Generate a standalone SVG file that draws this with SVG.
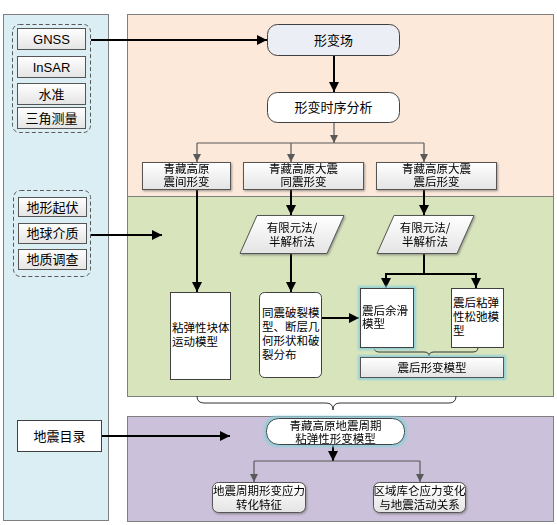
<svg xmlns="http://www.w3.org/2000/svg" width="557" height="525" viewBox="0 0 557 525">
<defs>
<linearGradient id="gbox" x1="0" y1="0" x2="0" y2="1">
<stop offset="0" stop-color="#FFFFFF"/>
<stop offset="1" stop-color="#E4E4E4"/>
</linearGradient>
<filter id="shadow" x="-10%" y="-10%" width="125%" height="135%">
<feDropShadow dx="1" dy="1.2" stdDeviation="0.8" flood-color="#555" flood-opacity="0.55"/>
</filter>
<filter id="glow" x="-15%" y="-15%" width="130%" height="130%">
<feMorphology in="SourceAlpha" operator="dilate" radius="1.5" result="d"/>
<feGaussianBlur in="d" stdDeviation="1" result="b"/>
<feFlood flood-color="#8FCFD9" flood-opacity="0.9"/>
<feComposite in2="b" operator="in" result="g"/>
<feMerge><feMergeNode in="g"/><feMergeNode in="SourceGraphic"/></feMerge>
</filter>
<marker id="ab" viewBox="0 0 10 10" refX="10" refY="5" markerWidth="5" markerHeight="5" markerUnits="strokeWidth" orient="auto">
<path d="M0,0 L10,5 L0,10 z" fill="#000"/>
</marker>
<marker id="ag" viewBox="0 0 10 10" refX="10" refY="5" markerWidth="7" markerHeight="7" markerUnits="strokeWidth" orient="auto">
<path d="M0,0 L10,5 L0,10 z" fill="#595959"/>
</marker>
</defs>
<style>
.panel{stroke:#7F7F7F;stroke-width:1}
.txt{font-family:"Noto Sans CJK SC","Liberation Sans",sans-serif;font-size:11.5px;fill:#000}
.lt{font-family:"Liberation Sans","Noto Sans CJK SC",sans-serif;font-size:13px;fill:#000}
.big{font-size:13px}
.src{fill:url(#gbox);stroke:#555;stroke-width:1}
.node{stroke:#404040;stroke-width:1}
.dash{fill:none;stroke:#595959;stroke-width:1;stroke-dasharray:4 2.5}
.thick{fill:none;stroke:#000;stroke-width:2;marker-end:url(#ab)}
.thin{fill:none;stroke:#595959;stroke-width:1.2}
.thinA{fill:none;stroke:#595959;stroke-width:1.2;marker-end:url(#ag)}
.brace{fill:none;stroke:#333;stroke-width:1}
</style>

<g id="panels">
<rect class="panel" x="3.5" y="14.5" width="105" height="506" fill="#DAEEF3"/>
<rect class="panel" x="127.5" y="14.5" width="426" height="182" fill="#FDE9D9"/>
<rect class="panel" x="127.5" y="196.5" width="426" height="200" fill="#D7E4BC"/>
<rect class="panel" x="127.5" y="416.5" width="426" height="105" fill="#CCC1DA"/>
</g>

<g id="source-groups">
<rect class="dash" x="12.5" y="24.5" width="78" height="108" rx="7"/>
<rect class="dash" x="13.5" y="190.5" width="77" height="86" rx="7"/>
</g>

<g id="connectors">
<line class="thick" x1="91" y1="40" x2="267" y2="40"/>
<line class="thick" x1="91" y1="235" x2="162" y2="235"/>
<line class="thick" x1="101" y1="436" x2="230" y2="436"/>
<line class="thick" x1="334" y1="55" x2="334" y2="92"/>
<line class="thinA" x1="334" y1="122" x2="334" y2="143"/>
<polyline class="thin" points="197,143 424,143"/>
<line class="thinA" x1="197" y1="143" x2="197" y2="162"/>
<line class="thinA" x1="291" y1="143" x2="291" y2="162"/>
<line class="thinA" x1="424" y1="143" x2="424" y2="162"/>
<line class="thick" x1="197" y1="190" x2="197" y2="292"/>
<line class="thick" x1="291" y1="189" x2="291" y2="215"/>
<line class="thick" x1="424" y1="189" x2="424" y2="215"/>
<line class="thick" x1="291" y1="253" x2="291" y2="292"/>
<polyline fill="none" stroke="#000" stroke-width="2" points="424,253 424,274"/>
<polyline fill="none" stroke="#000" stroke-width="2" points="385,274 477,274"/>
<line class="thick" x1="386" y1="273" x2="386" y2="288"/>
<line class="thick" x1="476" y1="273" x2="476" y2="288"/>
<line class="thick" x1="321" y1="318" x2="359" y2="318"/>
<path class="brace" d="M374,347 Q374,352 379,352 L424,352 Q429,352 429,356 Q429,352 434,352 L473,352 Q478,352 478,347"/>
<path class="brace" d="M197,396 Q197,403 204,403 L326,403 Q333,403 333,410 Q333,403 340,403 L449,403 Q456,403 456,396"/>
<line class="thick" x1="333" y1="444" x2="333" y2="461"/>
<polyline class="thin" points="254,461 420,461"/>
<line class="thinA" x1="254" y1="461" x2="254" y2="482"/>
<line class="thinA" x1="420" y1="461" x2="420" y2="482"/>
</g>

<g id="n-gnss"><rect class="src" x="17.5" y="28.5" width="68" height="21"/><text class="lt" x="51.5" y="43.5" text-anchor="middle">GNSS</text></g>
<g id="n-insar"><rect class="src" x="17.5" y="56.5" width="68" height="21"/><text class="lt" x="51.5" y="71.5" text-anchor="middle">InSAR</text></g>
<g id="n-shuizhun"><rect class="src" x="17.5" y="83.5" width="68" height="21"/><text class="txt big" x="51.5" y="98.5" text-anchor="middle">水准</text></g>
<g id="n-sanjiao"><rect class="src" x="17.5" y="107.5" width="68" height="21"/><text class="txt big" x="51.5" y="122.5" text-anchor="middle">三角测量</text></g>

<g id="n-dixing"><rect class="src" x="18.5" y="197.5" width="68" height="19"/><text class="txt big" x="52.5" y="211.5" text-anchor="middle">地形起伏</text></g>
<g id="n-diqiu"><rect class="src" x="18.5" y="223.5" width="68" height="20"/><text class="txt big" x="52.5" y="238" text-anchor="middle">地球介质</text></g>
<g id="n-dizhi"><rect class="src" x="18.5" y="249.5" width="68" height="20"/><text class="txt big" x="52.5" y="264" text-anchor="middle">地质调查</text></g>

<g id="n-dizhenmulu"><rect x="17.5" y="420.5" width="84" height="31" fill="#fff" stroke="#404040"/><text class="txt big" x="59.5" y="440.5" text-anchor="middle">地震目录</text></g>

<g id="n-xingbianchang"><rect class="node" x="267.5" y="24.5" width="132" height="31" rx="10" fill="#EBEFF5"/><text class="txt big" x="333.5" y="44.5" text-anchor="middle">形变场</text></g>
<g id="n-shixu"><rect class="node" x="267.5" y="92.5" width="132" height="30" rx="10" fill="#fff"/><text class="txt big" x="333.5" y="112" text-anchor="middle">形变时序分析</text></g>

<g id="n-zhenjian" filter="url(#shadow)"><rect class="src" x="142.5" y="162.5" width="88" height="27"/><text class="txt" text-anchor="middle"><tspan x="186.5" y="172.5">青藏高原</tspan><tspan x="186.5" y="186">震间形变</tspan></text></g>
<g id="n-tongzhen" filter="url(#shadow)"><rect class="src" x="243.5" y="162.5" width="120" height="27"/><text class="txt" text-anchor="middle"><tspan x="303.5" y="172.5">青藏高原大震</tspan><tspan x="303.5" y="186">同震形变</tspan></text></g>
<g id="n-zhenhou" filter="url(#shadow)"><rect class="src" x="376.5" y="162.5" width="120" height="27"/><text class="txt" text-anchor="middle"><tspan x="436.5" y="172.5">青藏高原大震</tspan><tspan x="436.5" y="186">震后形变</tspan></text></g>

<g id="n-youxian1" filter="url(#shadow)"><polygon class="src" points="257,215.5 344,215.5 327,253.5 240,253.5"/><text class="txt" text-anchor="middle"><tspan x="292" y="232">有限元法/</tspan><tspan x="292" y="246">半解析法</tspan></text></g>
<g id="n-youxian2" filter="url(#shadow)"><polygon class="src" points="394,215.5 474,215.5 457,253.5 377,253.5"/><text class="txt" text-anchor="middle"><tspan x="425" y="232">有限元法/</tspan><tspan x="425" y="246">半解析法</tspan></text></g>

<g id="n-kuaiti"><rect x="170.5" y="292.5" width="60" height="87" fill="#fff" stroke="#404040"/><text class="txt"><tspan x="172" y="332">粘弹性块体</tspan><tspan x="172" y="346">运动模型</tspan></text></g>
<g id="n-polie"><rect x="259.5" y="292.5" width="62" height="85" rx="5" fill="#fff" stroke="#404040"/><text class="txt"><tspan x="262" y="317">同震破裂模</tspan><tspan x="262" y="331">型、断层几</tspan><tspan x="262" y="345">何形状和破</tspan><tspan x="262" y="359">裂分布</tspan></text></g>
<g id="n-yuhua" filter="url(#glow)"><rect x="360.5" y="288.5" width="53" height="59" fill="#fff" stroke="#404040"/><text class="txt"><tspan x="362" y="315">震后余滑</tspan><tspan x="362" y="328">模型</tspan></text></g>
<g id="n-songchi"><rect x="451.5" y="288.5" width="52" height="59" fill="#fff" stroke="#404040"/><text class="txt"><tspan x="453" y="307">震后粘弹</tspan><tspan x="453" y="321">性松弛模</tspan><tspan x="453" y="335">型</tspan></text></g>
<g id="n-zhenhoumoxing" filter="url(#glow)"><rect class="src" x="360.5" y="357.5" width="143" height="20"/><text class="txt" x="432" y="371.5" text-anchor="middle">震后形变模型</text></g>

<g id="n-zhouqi" filter="url(#glow)"><rect class="node" x="266.5" y="418.5" width="138" height="26" rx="12" fill="#fff"/><text class="txt" text-anchor="middle"><tspan x="335.5" y="429.5">青藏高原地震周期</tspan><tspan x="335.5" y="442.5">粘弹性形变模型</tspan></text></g>

<g id="n-zhuanhua" filter="url(#shadow)"><rect class="src" x="212.5" y="482.5" width="93" height="30" rx="6"/><text class="txt" text-anchor="middle"><tspan x="259" y="495">地震周期形变应力</tspan><tspan x="259" y="509">转化特征</tspan></text></g>
<g id="n-kulun" filter="url(#shadow)"><rect class="src" x="373.5" y="482.5" width="92" height="30" rx="6"/><text class="txt" text-anchor="middle"><tspan x="419.5" y="495">区域库仑应力变化</tspan><tspan x="419.5" y="509">与地震活动关系</tspan></text></g>
</svg>
